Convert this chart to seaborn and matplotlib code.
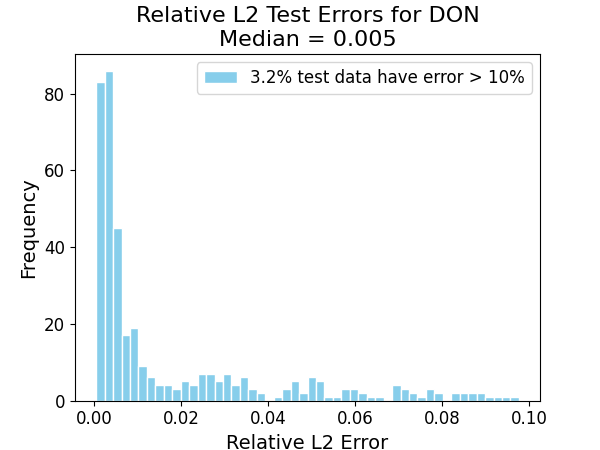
import numpy as np
import pandas as pd
import matplotlib
matplotlib.use("Agg")
import matplotlib.pyplot as plt
import seaborn as sns

# Histogram of relative L2 errors (errors <= 0.1), 50 bins
bin_start = 0.0004
bin_end = 0.0977
counts = [83, 86, 45, 17, 19, 9, 6, 4, 4, 3,
          5, 4, 7, 7, 5, 7, 4, 6, 3, 2,
          0, 1, 3, 5, 2, 6, 5, 1, 1, 3,
          3, 2, 1, 1, 0, 4, 3, 2, 1, 3,
          2, 0, 2, 2, 2, 2, 1, 1, 1, 1]
legend_label = "3.2% test data have error > 10%"
title = "Relative L2 Test Errors for DON\nMedian = 0.005"

edges = np.linspace(bin_start, bin_end, len(counts) + 1)
centers = (edges[:-1] + edges[1:]) / 2
df = pd.DataFrame({"err": centers, "n": counts})

fig, ax = plt.subplots(figsize=(6, 4.5), dpi=100)
sns.histplot(data=df, x="err", weights="n", bins=len(counts),
             binrange=(bin_start, bin_end), color="skyblue",
             edgecolor="white", linewidth=1, alpha=1, ax=ax, label=legend_label)
ax.set_title(title, fontsize=16)
ax.set_xlabel("Relative L2 Error", fontsize=14)
ax.set_ylabel("Frequency", fontsize=14)
ax.tick_params(labelsize=12)
ax.legend(fontsize=12, loc="upper right")
fig.savefig("out.png", dpi=100)
